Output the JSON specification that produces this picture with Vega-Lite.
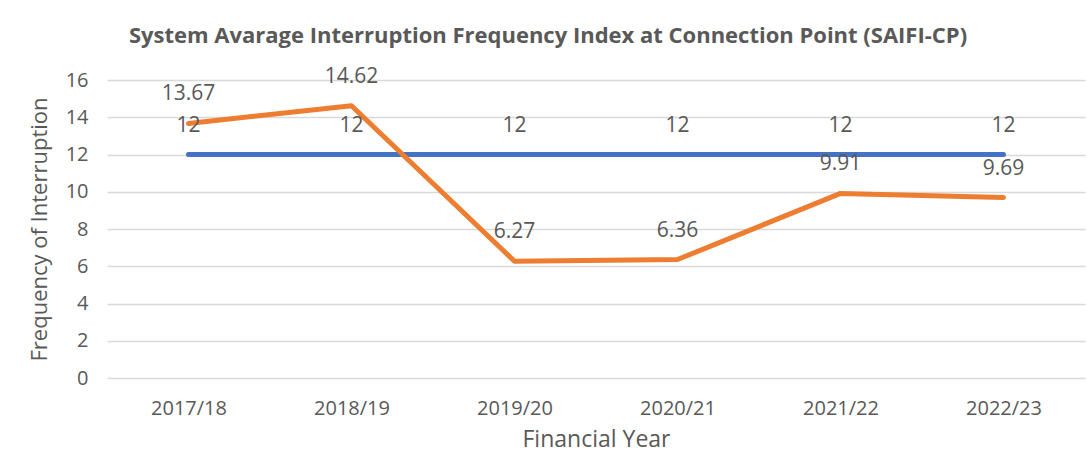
{
  "$schema": "https://vega.github.io/schema/vega-lite/v6.json",
  "width": 978,
  "height": 298,
  "autosize": {"type": "none"},
  "padding": {"left": 107, "top": 80, "right": 2, "bottom": 83},
  "background": "white",
  "title": {
    "text": "System Avarage Interruption Frequency Index at Connection Point (SAIFI-CP)",
    "font": "Open Sans",
    "fontSize": 22,
    "fontWeight": "bold",
    "color": "#595959",
    "anchor": "middle",
    "dx": -48,
    "offset": 18
  },
  "data": {
    "values": [
      {"year": "2017/18", "series": "Target", "value": 12},
      {"year": "2018/19", "series": "Target", "value": 12},
      {"year": "2019/20", "series": "Target", "value": 12},
      {"year": "2020/21", "series": "Target", "value": 12},
      {"year": "2021/22", "series": "Target", "value": 12},
      {"year": "2022/23", "series": "Target", "value": 12},
      {"year": "2017/18", "series": "Actual", "value": 13.67},
      {"year": "2018/19", "series": "Actual", "value": 14.62},
      {"year": "2019/20", "series": "Actual", "value": 6.27},
      {"year": "2020/21", "series": "Actual", "value": 6.36},
      {"year": "2021/22", "series": "Actual", "value": 9.91},
      {"year": "2022/23", "series": "Actual", "value": 9.69}
    ]
  },
  "encoding": {
    "x": {
      "field": "year",
      "type": "ordinal",
      "scale": {"type": "point", "padding": 0.5},
      "axis": {
        "title": "Financial Year",
        "labelAngle": 0,
        "labelFont": "Open Sans",
        "labelFontSize": 20,
        "labelColor": "#595959",
        "labelPadding": 20,
        "titleFont": "Open Sans",
        "titleFontSize": 23,
        "titleFontWeight": "normal",
        "titleColor": "#595959",
        "titlePadding": 10,
        "ticks": false,
        "domain": false,
        "grid": false
      }
    },
    "y": {
      "field": "value",
      "type": "quantitative",
      "scale": {"domain": [0, 16], "nice": false},
      "axis": {
        "title": "Frequency of Interruption",
        "values": [0, 2, 4, 6, 8, 10, 12, 14, 16],
        "labelFont": "Open Sans",
        "labelFontSize": 20,
        "labelColor": "#595959",
        "labelPadding": 19,
        "titleFont": "Open Sans",
        "titleFontSize": 22,
        "titleFontWeight": "normal",
        "titleColor": "#595959",
        "titlePadding": 14,
        "ticks": false,
        "domain": false,
        "grid": true,
        "gridColor": "#d9d9d9",
        "gridWidth": 1.5
      }
    },
    "color": {
      "field": "series",
      "type": "nominal",
      "scale": {"domain": ["Target", "Actual"], "range": ["#4472C4", "#ED7D31"]},
      "legend": null
    }
  },
  "layer": [
    {"mark": {"type": "line", "strokeWidth": 5, "strokeCap": "round", "strokeJoin": "round"}},
    {
      "mark": {"type": "text", "dy": -29, "font": "Open Sans", "fontSize": 21, "color": "#595959"},
      "encoding": {
        "text": {"field": "value", "type": "quantitative", "format": ".4~"},
        "color": {"value": "#595959"}
      }
    }
  ],
  "config": {"view": {"stroke": null}}
}
